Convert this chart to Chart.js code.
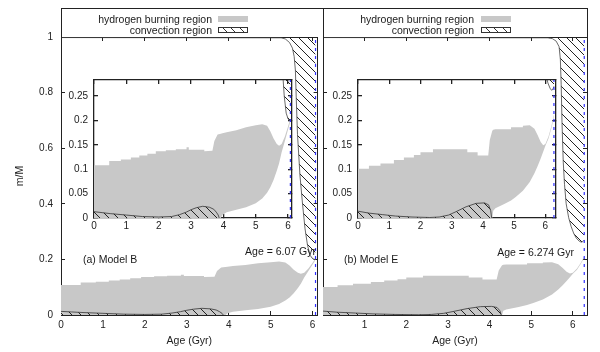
<!DOCTYPE html>
<html lang="en">
<head>
<meta charset="UTF-8">
<title>Hydrogen burning and convection regions</title>
<script src="https://cdn.jsdelivr.net/npm/chart.js"></script>
<style>
  body { margin: 0; background: #fff; font-family: "Liberation Sans", Arial, sans-serif; }
  #wrap { position: relative; width: 600px; height: 352px; overflow: hidden; }
  canvas { position: absolute; }
  .txt { position: absolute; font-size: 10.5px; line-height: 12px; color: #1a1a1a; white-space: nowrap; }
  .keybox { position: absolute; top: 8px; height: 30px; box-sizing: border-box; border: 1px solid #222; border-bottom: none; }
  .sw { position: absolute; width: 30px; height: 6px; box-sizing: border-box; }
  .gray { background: #c8c8c8; }
  .hatch { border: 1px solid #333; background: repeating-linear-gradient(45deg, #fff 0 5px, #333 5px 6px); }
</style>
</head>
<body>
<div id="wrap">
  <canvas id="mainB" width="324" height="352" style="left:0;top:0"></canvas>
  <canvas id="mainE" width="287" height="352" style="left:313px;top:0"></canvas>
  <canvas id="insetB" width="246" height="180" style="left:54px;top:64px"></canvas>
  <canvas id="insetE" width="246" height="180" style="left:318px;top:64px"></canvas>

  <div class="keybox" style="left:61px;width:263px"></div>
  <div class="keybox" style="left:323px;width:265px"></div>
  <div class="txt" style="right:388px;top:13px">hydrogen burning region</div>
  <div class="txt" style="right:388px;top:24px">convection region</div>
  <div class="sw gray" style="left:218px;top:16px"></div>
  <div class="sw hatch" style="left:218px;top:27px"></div>
  <div class="txt" style="right:126px;top:13px">hydrogen burning region</div>
  <div class="txt" style="right:126px;top:24px">convection region</div>
  <div class="sw gray" style="left:481px;top:16px"></div>
  <div class="sw hatch" style="left:481px;top:27px"></div>

  <div class="txt" style="left:83px;top:253px">(a) Model B</div>
  <div class="txt" style="right:284px;top:245px">Age = 6.07 Gyr</div>
  <div class="txt" style="left:344px;top:253px">(b) Model E</div>
  <div class="txt" style="right:26px;top:246px">Age = 6.274 Gyr</div>
</div>

<script>
// ---- Model B ----
const ageB  = [0, 0.47, 0.47, 0.83, 0.83, 1.14, 1.14, 1.4, 1.4, 1.65, 1.65, 1.91, 1.91, 2.22, 2.22, 2.53, 2.53, 2.86, 2.86, 2.93, 2.93, 3.41, 3.41,
               3.66, 3.72, 3.82, 3.92, 3.97, 4.1, 4.4, 4.7, 5.0, 5.2, 5.35, 5.45, 5.55, 5.65, 5.72, 5.8, 5.9, 6.0, 6.07];
const hTopB = [0.108, 0.108, 0.117, 0.117, 0.120, 0.120, 0.124, 0.124, 0.128, 0.128, 0.132, 0.132, 0.137, 0.137, 0.139, 0.139, 0.141, 0.141, 0.145, 0.145, 0.140, 0.140, 0.137,
               0.138, 0.158, 0.171, 0.173, 0.174, 0.176, 0.180, 0.186, 0.190, 0.192, 0.189, 0.178, 0.163, 0.152, 0.148, 0.152, 0.167, 0.188, 0.204];
const hBotB = [0, 0, 0, 0, 0, 0, 0, 0, 0, 0, 0, 0, 0, 0, 0, 0, 0, 0, 0, 0, 0, 0, 0,
               0, 0, 0, 0, 0.006, 0.012, 0.017, 0.022, 0.030, 0.040, 0.052, 0.063, 0.078, 0.097, 0.112, 0.135, 0.158, 0.182, 0.198];
const cAgeB = [0, 0.25, 0.5, 1.0, 1.5, 2.0, 2.4, 2.65, 2.85, 3.0, 3.16, 3.36, 3.57, 3.7, 3.78, 3.84, 3.87];
const cTopB = [0.013, 0.011, 0.009, 0.006, 0.003, 0.002, 0.003, 0.007, 0.012, 0.017, 0.021, 0.024, 0.022, 0.018, 0.012, 0.006, 0];
const eAgeB = [0, 5.25, 5.35, 5.45, 5.52, 5.56, 5.59, 5.61, 5.64, 5.7, 5.76, 5.82, 5.88, 5.94, 6.0, 6.04, 6.07];
const eBotB = [0.998, 0.997, 0.993, 0.98, 0.96, 0.93, 0.88, 0.78, 0.65, 0.5, 0.4, 0.31, 0.25, 0.215, 0.203, 0.2, 0.202];
const endB = 6.07, xMaxB = 6.12;

// ---- Model E ----
const ageE  = [0, 0.35, 0.35, 0.72, 0.72, 1.15, 1.15, 1.47, 1.47, 1.79, 1.79, 2.0, 2.0, 2.4, 2.4, 3.5, 3.5, 3.83, 3.83,
               4.17, 4.22, 4.3, 4.33, 4.4, 4.7, 4.9, 4.9, 5.05, 5.28, 5.28, 5.5, 5.65, 5.75, 5.85, 5.93, 6.0, 6.1, 6.2, 6.274];
const hTopE = [0.101, 0.101, 0.107, 0.107, 0.112, 0.112, 0.119, 0.119, 0.124, 0.124, 0.129, 0.129, 0.135, 0.135, 0.141, 0.141, 0.135, 0.135, 0.128,
               0.128, 0.160, 0.179, 0.181, 0.182, 0.182, 0.182, 0.186, 0.186, 0.186, 0.189, 0.190, 0.183, 0.170, 0.156, 0.149, 0.152, 0.167, 0.190, 0.212];
const hBotE = [0, 0, 0, 0, 0, 0, 0, 0, 0, 0, 0, 0, 0, 0, 0, 0, 0, 0, 0,
               0, 0, 0, 0.015, 0.020, 0.029, 0.036, 0.036, 0.043, 0.056, 0.056, 0.074, 0.092, 0.106, 0.122, 0.136, 0.148, 0.163, 0.186, 0.207];
const cAgeE = [0, 0.35, 0.78, 1.2, 1.73, 2.3, 2.6, 2.9, 3.14, 3.46, 3.78, 4.05, 4.18, 4.25, 4.28];
const cTopE = [0.014, 0.010, 0.007, 0.004, 0.002, 0.001, 0.002, 0.006, 0.013, 0.023, 0.030, 0.031, 0.027, 0.015, 0];
const eAgeE = [0, 5.4, 5.51, 5.6, 5.67, 5.7, 5.72, 5.74, 5.77, 5.8, 5.84, 5.9, 5.96, 6.02, 6.08, 6.15, 6.2, 6.24, 6.274];
const eBotE = [0.998, 0.997, 0.994, 0.985, 0.965, 0.92, 0.83, 0.69, 0.55, 0.47, 0.40, 0.35, 0.318, 0.294, 0.277, 0.266, 0.262, 0.264, 0.27];
const endE = 6.274, xMaxE = 6.34;

// ---- ticks ----
const xTicks = [0, 1, 2, 3, 4, 5, 6];
const xLabelsE = [1, 2, 3, 4, 5, 6];
const yTicksMain = [0, 0.2, 0.4, 0.6, 0.8, 1];
const yTicksInset = [0, 0.05, 0.1, 0.15, 0.2, 0.25];
const yMaxInset = 0.283;

const INK = '#222';
const GRAY = '#c8c8c8';
const FONT = { family: '"Liberation Sans", Arial, sans-serif', size: 10 };

function hatchPattern() {
  const c = document.createElement('canvas');
  c.width = 9; c.height = 9;
  const g = c.getContext('2d');
  g.strokeStyle = '#222';
  g.lineWidth = 1;
  g.beginPath();
  g.moveTo(-1, -1); g.lineTo(10, 10);
  g.moveTo(-1, 8); g.lineTo(1, 10);
  g.moveTo(8, -1); g.lineTo(10, 1);
  g.stroke();
  return g.createPattern(c, 'repeat');
}
const hatch = hatchPattern();

const pts = (xs, ys) => xs.map((x, i) => ({ x: x, y: ys[i] }));

const models = {
  B: { age: ageB, hTop: hTopB, hBot: hBotB, cAge: cAgeB, cTop: cTopB, eAge: eAgeB, eBot: eBotB, end: endB, xMax: xMaxB },
  E: { age: ageE, hTop: hTopE, hBot: hBotE, cAge: cAgeE, cTop: cTopE, eAge: eAgeE, eBot: eBotE, end: endE, xMax: xMaxE }
};

function datasets(m) {
  const base = { pointRadius: 0, pointHoverRadius: 0, tension: 0, fill: false };
  const none = 'rgba(0,0,0,0)';
  return [
    // end of the run
    { ...base, data: [{ x: m.end, y: 0 }, { x: m.end, y: 1 }], borderColor: '#2f2fff', borderWidth: 1.2, borderDash: [3, 5] },
    // core convection
    { ...base, data: pts(m.cAge, m.cTop), borderColor: '#333', borderWidth: 0.8, fill: 'origin', backgroundColor: hatch },
    // envelope convection (base -> surface)
    { ...base, data: pts(m.eAge, m.eBot), borderColor: '#444', borderWidth: 0.8, fill: 3, backgroundColor: hatch },
    { ...base, data: [{ x: 0, y: 1 }, { x: m.end, y: 1 }], borderColor: none, borderWidth: 0 },
    // hydrogen burning region
    { ...base, data: pts(m.age, m.hTop), borderColor: none, borderWidth: 0, fill: 5, backgroundColor: GRAY },
    { ...base, data: pts(m.age, m.hBot), borderColor: none, borderWidth: 0 }
  ];
}

function axis(pos, min, max, ticks, o) {
  o = o || {};
  return {
    type: 'linear', position: pos, min: min, max: max,
    afterBuildTicks: s => { s.ticks = ticks.map(v => ({ value: v })); },
    ticks: {
      display: !!o.labels, font: FONT, color: INK, padding: o.pad || 3,
      autoSkip: false, maxRotation: 0,
      callback: v => (o.labels && o.labels.includes(v)) ? String(v) : ''
    },
    grid: { drawOnChartArea: false, tickLength: -4, color: INK, lineWidth: o.bw || 1 },
    border: { color: INK, width: o.bw || 1 },
    title: o.title
      ? { display: true, text: o.title, font: { family: FONT.family, size: 10.5 }, color: INK, padding: o.titlePad }
      : { display: false },
    afterFit: s => { if (s.isHorizontal()) s.height = o.size; else s.width = o.size; }
  };
}

const whiteArea = {
  id: 'whiteArea',
  beforeDraw(c) {
    const a = c.chartArea;
    c.ctx.save();
    c.ctx.fillStyle = '#fff';
    c.ctx.fillRect(a.left, a.top, a.right - a.left, a.bottom - a.top);
    c.ctx.restore();
  }
};

function panel(id, m, scales, padding, inset) {
  return new Chart(document.getElementById(id), {
    type: 'line',
    data: { datasets: datasets(m) },
    options: {
      responsive: false, animation: false, events: [],
      layout: { padding: padding },
      plugins: { legend: { display: false }, tooltip: { enabled: false } },
      scales: scales
    },
    plugins: inset ? [whiteArea] : []
  });
}

const B = models.B, E = models.E;

panel('mainB', B, {
  x: axis('bottom', 0, B.xMax, xTicks, { labels: xTicks, pad: 8.5, size: 37, title: 'Age (Gyr)', titlePad: { bottom: 4.7 } }),
  x2: axis('top', 0, B.xMax, xTicks, { size: 0 }),
  y: axis('left', 0, 1, yTicksMain, { labels: yTicksMain, pad: 12, size: 61, title: 'm/M', titlePad: { top: 13.7 } }),
  y2: axis('right', 0, 1, yTicksMain, { size: 0 })
}, { top: 37, right: 1, left: 0, bottom: 0 });

panel('mainE', E, {
  x: axis('bottom', 0, E.xMax, xTicks, { labels: xLabelsE, pad: 8.5, size: 37, title: 'Age (Gyr)', titlePad: { bottom: 4.7 } }),
  x2: axis('top', 0, E.xMax, xTicks, { size: 0 }),
  y: axis('left', 0, 1, yTicksMain, { size: 10 }),
  y2: axis('right', 0, 1, yTicksMain, { size: 0 })
}, { top: 37, right: 13, left: 0, bottom: 0 });

panel('insetB', B, {
  x: axis('bottom', 0, B.xMax, xTicks, { labels: xTicks, pad: 6, size: 26, bw: 1.3 }),
  x2: axis('top', 0, B.xMax, xTicks, { size: 0, bw: 1.3 }),
  y: axis('left', 0, yMaxInset, yTicksInset, { labels: yTicksInset, pad: 10, size: 40, bw: 1.3 }),
  y2: axis('right', 0, yMaxInset, yTicksInset, { size: 0, bw: 1.3 })
}, { top: 10, right: 8, left: 0, bottom: 0 }, true);

panel('insetE', E, {
  x: axis('bottom', 0, E.xMax, xTicks, { labels: xTicks, pad: 6, size: 26, bw: 1.3 }),
  x2: axis('top', 0, E.xMax, xTicks, { size: 0, bw: 1.3 }),
  y: axis('left', 0, yMaxInset, yTicksInset, { labels: yTicksInset, pad: 10, size: 40, bw: 1.3 }),
  y2: axis('right', 0, yMaxInset, yTicksInset, { size: 0, bw: 1.3 })
}, { top: 10, right: 8, left: 0, bottom: 0 }, true);
</script>
</body>
</html>
